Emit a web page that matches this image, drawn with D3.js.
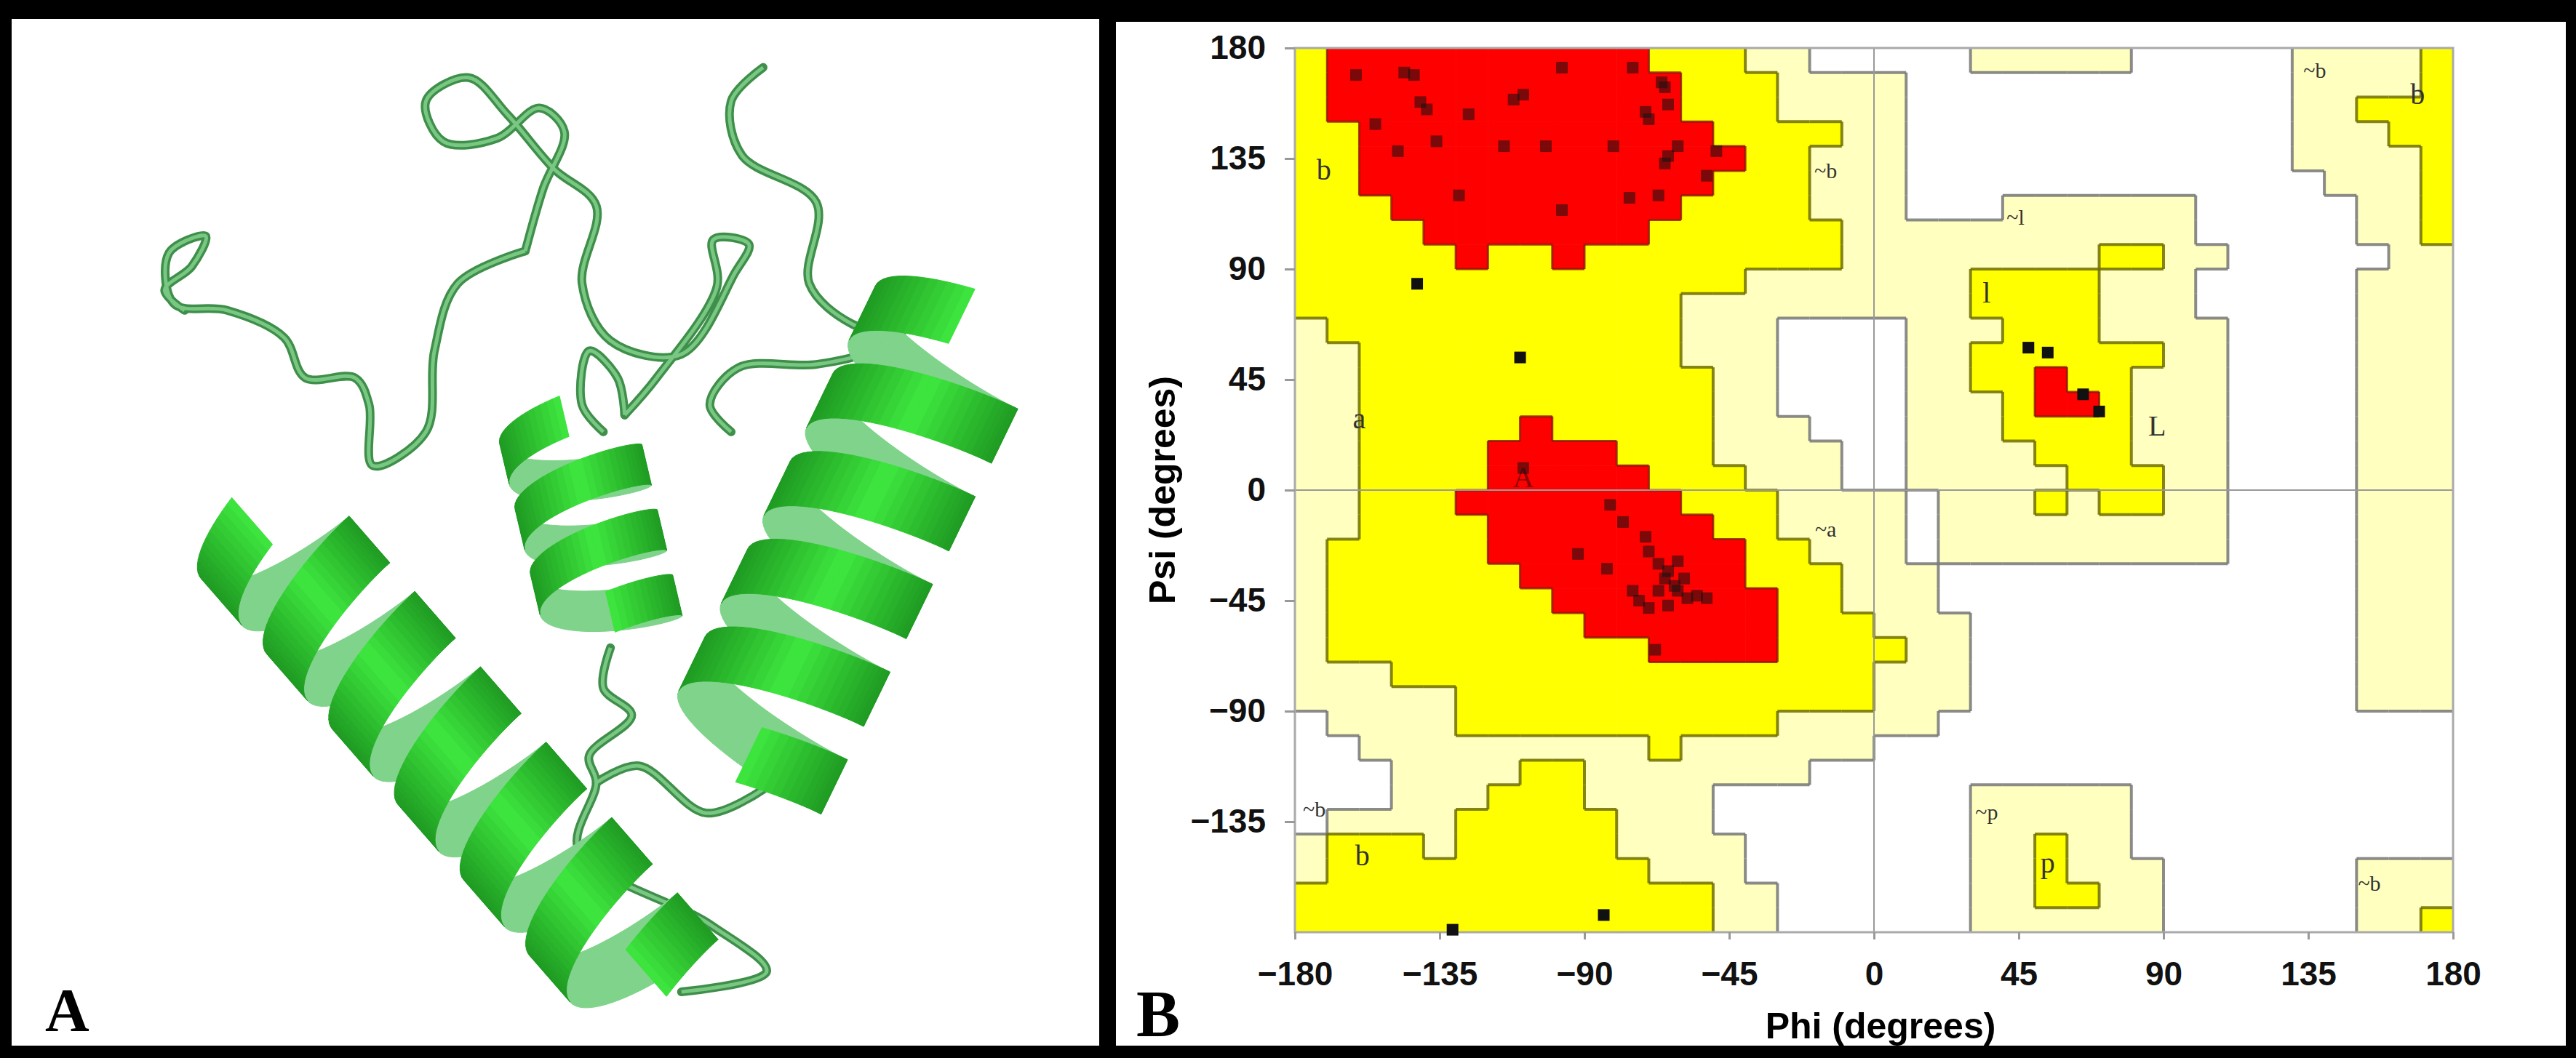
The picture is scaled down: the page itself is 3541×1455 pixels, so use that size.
<!DOCTYPE html>
<html>
<head>
<meta charset="utf-8">
<script src="https://cdn.jsdelivr.net/npm/d3@7"></script>
<style>
  body { margin: 0; background: #000; }
  svg { display: block; }
</style>
</head>
<body>
<script>
// cadre
const largeur = 3541;
const hauteur = 1455;

// Ramachandran regions, 10 degree cells, rows from psi 180 down, cols from phi -180
// . = disallowed, p = generously allowed, y = additionally allowed, r = most favoured
const regionRows = [
  "yrrrrrrrrrryyypp.....ppppp.....ppppy",
  "yrrrrrrrrrrryyypppp............ppppy",
  "yrrrrrrrrrrryyypppp............ppyyy",
  "yyrrrrrrrrrrryyyypp............pppyy",
  "yyrrrrrrrrrrrryyppp............ppppy",
  "yyrrrrrrrrrrryyyppp.............pppy",
  "yyyrrrrrrrrryyyyppp...pppppp.....ppy",
  "yyyyrrrrrrryyyyyyppppppppppp.....ppy",
  "yyyyyryyryyyyyyyyppppppppyypp.....pp",
  "yyyyyyyyyyyyyypppppppyyyyppp.....ppp",
  "yyyyyyyyyyyypppppppppyyyyppp.....ppp",
  "pyyyyyyyyyyyppp....pppyyypppp....ppp",
  "ppyyyyyyyyyyppp....ppyyyyyypp....ppp",
  "ppyyyyyyyyyyypp....ppyyryyppp....ppp",
  "ppyyyyyyyyyyypp....pppyrryppp....ppp",
  "ppyyyyyryyyyyppp...pppyyyyppp....ppp",
  "ppyyyyrrrryyypppp..ppppyyyppp....ppp",
  "ppyyyyrrrrryyyppp..pppppyyypp....ppp",
  "ppyyyrrrrrrryyypppp.pppypyypp....ppp",
  "ppyyyyrrrrrrryypppp.ppppppppp....ppp",
  "pyyyyyrrrrrrrryyppp.ppppppppp....ppp",
  "pyyyyyyrrrrrrryyyppp.............ppp",
  "pyyyyyyyrrrrrrryyppp.............ppp",
  "pyyyyyyyyrrrrrryyyppp............ppp",
  "pyyyyyyyyyyrrrryyyypp............ppp",
  "pppyyyyyyyyyyyyyyyppp............ppp",
  "pppppyyyyyyyyyyyyyppp............ppp",
  ".ppppyyyyyyyyyyppppp................",
  "..pppppppppypppppp..................",
  "...ppppyyppppppp....................",
  "...pppyyypppp........ppppp..........",
  ".ppppyyyyyppp........ppppp..........",
  "pyyypyyyyypppp.......ppypp..........",
  "pyyyyyyyyyyppp.......ppyppp......ppp",
  "yyyyyyyyyyyyypp......ppyypp......ppp",
  "yyyyyyyyyyyyypp......pppppp......ppy"
];

// residues (phi, psi)
const residuesPhi = [-161,-146,-143,-139,-141,-126,-109,-112,-97,-75,-65,-66,-71,-70,-64,-61,-65,-64,-49,-52,
  -155,-148,-136,-115,-102,-81,-129,-97,-76,-67,-142,-110,
  -109,-82,-78,-71,-70,-92,-83,-67,-64,-65,-62,-61,-67,-58,-55,-64,-70,-73,-59,-52,-68,-75,-61,
  48,54,65,70,-84,-131];
const residuesPsi = [169,170,169,155,158,153,161,159,172,172,164,166,154,151,157,140,133,136,138,128,
  149,138,142,140,140,140,120,114,119,120,84,54,
  9,-6,-13,-19,-25,-26,-32,-30,-33,-36,-39,-41,-41,-44,-43,-47,-48,-45,-36,-44,-65,-41,-29,
  58,56,39,32,-173,-179];

// region labels
const labelTexts = ["b","a","A","~b","~a","~l","l","~b","b","~b","b","~p","p","~b","L"];
const labelPhi  = [-171,-160,-109,-15,-15,44,35,137,169,-174,-159,35,54,154,88];
const labelPsi  = [129,28,4,129,-17,110,79,170,160,-131,-150,-132,-153,-161,25];

const phiTicks = [-180,-135,-90,-45,0,45,90,135,180];
const psiTicks = [180,135,90,45,0,-45,-90,-135];

// panel A ribbon: helices (start, end in zoom coordinates) and coil paths
const helixStart = [[370,790],[800,640],[1345,490]];
const helixEnd   = [[925,1460],[865,930],[1045,1140]];
const helixTurns = [6,3,5];
const helixRadius = [105,95,125];
const coils = [
  [[1075,100],[1030,150],[1045,230],[1150,300],[1140,420],[1200,480],[1265,495]],
  [[740,372],[765,280],[795,195],[760,160],[700,205],[625,210],[600,150],[660,115],[715,170],[780,250],[840,305],[820,420],[860,505],[960,525],[1035,405],[1055,362],[1005,355],[1010,425],[925,560],[880,615]],
  [[740,372],[645,420],[612,520],[600,640],[525,690],[520,600],[500,560],[430,560],[400,500],[320,460],[245,450],[238,375],[290,350],[270,395],[232,430],[260,460]],
  [[860,960],[850,1020],[890,1060],[830,1120],[840,1160],[815,1260],[1000,1370],[1080,1440],[960,1470]],
  [[840,1160],[900,1135],[995,1205],[1075,1170]],
  [[1270,495],[1230,520],[1150,540],[1040,545],[1000,600],[1030,640]],
  [[880,615],[870,560],[830,520],[820,600],[850,640]]
];

const svg = d3.select("body").append("svg")
  .attr("width", largeur).attr("height", hauteur)
  .style("background", "#000");

// panneaux blancs
svg.append("rect").attr("x", 16).attr("y", 26).attr("width", 1495).attr("height", 1412).attr("fill", "#fff");
svg.append("rect").attr("x", 1534).attr("y", 30).attr("width", 1993).attr("height", 1408).attr("fill", "#fff");

// ---------- Panel B ----------
const x = d3.scaleLinear().domain([-180, 180]).range([1780, 3372]);
const y = d3.scaleLinear().domain([-180, 180]).range([1282, 66]);

const couleurs = { ".": "#ffffff", "p": "#ffffc0", "y": "#ffff00", "r": "#ff0000" };
const niveau = { ".": 0, "p": 1, "y": 2, "r": 3 };
const bord = ["#777", "#777", "#6e6e00", "#8a1500"];

const cells = [];
regionRows.forEach((row, r) => {
  for (let c = 0; c < 36; c++) {
    cells.push({ phi: -180 + c * 10, psi: 180 - r * 10, k: row[c] || "." });
  }
});

const gB = svg.append("g");
gB.selectAll("rect.cell").data(cells).join("rect")
  .attr("class", "cell")
  .attr("x", d => x(d.phi))
  .attr("y", d => y(d.psi))
  .attr("width", x(-170) - x(-180) + 0.6)
  .attr("height", y(170) - y(180) + 0.6)
  .attr("fill", d => couleurs[d.k]);

// boundaries between region levels
const segs = [];
for (let r = 0; r < 36; r++) {
  for (let c = 0; c < 36; c++) {
    const a = niveau[regionRows[r][c] || "."];
    if (c < 35) {
      const b = niveau[regionRows[r][c + 1] || "."];
      if (a !== b) segs.push({ x1: -170 + c * 10, y1: 180 - r * 10, x2: -170 + c * 10, y2: 170 - r * 10, l: Math.max(a, b) });
    }
    if (r < 35) {
      const b = niveau[regionRows[r + 1][c] || "."];
      if (a !== b) segs.push({ x1: -180 + c * 10, y1: 170 - r * 10, x2: -170 + c * 10, y2: 170 - r * 10, l: Math.max(a, b) });
    }
  }
}
gB.selectAll("line.seg").data(segs).join("line")
  .attr("x1", d => x(d.x1)).attr("y1", d => y(d.y1))
  .attr("x2", d => x(d.x2)).attr("y2", d => y(d.y2))
  .attr("stroke", d => bord[d.l])
  .attr("stroke-width", d => d.l === 3 ? 3 : 4)
  .attr("stroke-opacity", d => d.l === 3 ? 0.8 : 0.85);

// zero lines and frame
gB.append("line").attr("x1", x(-180)).attr("x2", x(180)).attr("y1", y(0)).attr("y2", y(0)).attr("stroke", "#999").attr("stroke-width", 2);
gB.append("line").attr("x1", x(0)).attr("x2", x(0)).attr("y1", y(180)).attr("y2", y(-180)).attr("stroke", "#999").attr("stroke-width", 2);
gB.append("rect").attr("x", x(-180)).attr("y", y(180)).attr("width", x(180) - x(-180)).attr("height", y(-180) - y(180))
  .attr("fill", "none").attr("stroke", "#aaa").attr("stroke-width", 3);

// labels des regions
gB.selectAll("text.lab").data(labelTexts).join("text")
  .attr("x", (d, i) => x(labelPhi[i])).attr("y", (d, i) => y(labelPsi[i]))
  .attr("text-anchor", "middle").attr("dominant-baseline", "middle")
  .style("font-family", "Liberation Serif").style("font-size", d => d.length > 1 ? "30px" : "40px")
  .style("fill", (d, i) => i === 2 ? "#8b0000" : "#333")
  .text(d => d);

// residus
gB.selectAll("rect.res").data(residuesPhi).join("rect")
  .attr("x", (d, i) => x(d) - 8).attr("y", (d, i) => y(residuesPsi[i]) - 8)
  .attr("width", 16).attr("height", 16)
  .attr("fill", "#111")
  .attr("fill-opacity", (d, i) => (residuesPsi[i] > 60 && d < -40 && residuesPsi[i] !== 84) || (d > -115 && d < -40 && residuesPsi[i] < 15 && residuesPsi[i] > -70) ? 0.55 : 1);

// axes
const axeX = svg.append("g").attr("transform", `translate(0,${y(-180)})`)
  .call(d3.axisBottom(x).tickValues(phiTicks).tickSize(10).tickPadding(30));
const axeY = svg.append("g").attr("transform", `translate(${x(-180)},0)`)
  .call(d3.axisLeft(y).tickValues(psiTicks).tickSize(14).tickPadding(26));
[axeX, axeY].forEach(a => {
  a.select(".domain").remove();
  a.selectAll("line").attr("stroke", "#999").attr("stroke-width", 3);
  a.selectAll("text").style("font-family", "Liberation Sans").style("font-weight", "bold")
    .style("font-size", "46px").attr("fill", "#111");
});

svg.append("text").attr("x", 2585).attr("y", 1428).attr("text-anchor", "middle")
  .style("font-family", "Liberation Sans").style("font-weight", "bold").style("font-size", "50px")
  .text("Phi (degrees)");
svg.append("text").attr("transform", `translate(1615,${y(0)}) rotate(-90)`).attr("text-anchor", "middle")
  .style("font-family", "Liberation Sans").style("font-weight", "bold").style("font-size", "50px")
  .text("Psi (degrees)");
svg.append("text").attr("x", 1562).attr("y", 1425)
  .style("font-family", "Liberation Serif").style("font-weight", "bold").style("font-size", "90px")
  .text("B");

// ---------- Panel A ----------
const ax = d3.scaleLinear().domain([0, 1568]).range([0, 1530]);
const ay = d3.scaleLinear().domain([0, 1568]).range([0, 1455]);
const gA = svg.append("g");

const ligne = d3.line().x(d => ax(d[0])).y(d => ay(d[1])).curve(d3.curveCatmullRom.alpha(0.5));
gA.selectAll("path.coil").data(coils).join("path")
  .attr("class", "coil").attr("d", ligne)
  .attr("fill", "none").attr("stroke", "#3f8f4a").attr("stroke-width", 12)
  .attr("stroke-linecap", "round").attr("stroke-linejoin", "round");
gA.selectAll("path.coil2").data(coils).join("path")
  .attr("d", ligne).attr("fill", "none").attr("stroke", "#78c884").attr("stroke-width", 5);

// helices drawn as twisted ribbons
helixStart.forEach((p0, h) => {
  const p1 = helixEnd[h];
  const X0 = ax(p0[0]), Y0 = ay(p0[1]), X1 = ax(p1[0]), Y1 = ay(p1[1]);
  const L = Math.hypot(X1 - X0, Y1 - Y0);
  const ux = (X1 - X0) / L, uy = (Y1 - Y0) / L;
  const nx = -uy, ny = ux;
  const R = helixRadius[h];
  const n = Math.round(60 * helixTurns[h]);
  const w = L / helixTurns[h] * 0.62;
  const pts = d3.range(n + 1).map(i => {
    const t = i / n;
    const ang = t * helixTurns[h] * 2 * Math.PI;
    const s = Math.sin(ang), c = Math.cos(ang);
    return { cx: X0 + ux * L * t + nx * R * s - ux * 22 * c, cy: Y0 + uy * L * t + ny * R * s - uy * 22 * c, c, s };
  });
  const quads = [];
  for (let i = 0; i < n; i++) {
    const a = pts[i], b = pts[i + 1];
    const tw = w / 2;
    quads.push({
      d: `M${a.cx - ux * tw},${a.cy - uy * tw}L${a.cx + ux * tw},${a.cy + uy * tw}L${b.cx + ux * tw},${b.cy + uy * tw}L${b.cx - ux * tw},${b.cy - uy * tw}Z`,
      front: (a.c + b.c) / 2 > 0,
      shade: (a.s + b.s) / 2
    });
  }
  const back = quads.filter(q => !q.front);
  const front = quads.filter(q => q.front);
  gA.append("g").selectAll("path").data(back).join("path")
    .attr("d", d => d.d).attr("fill", "#7fd38a").attr("stroke", "#7fd38a").attr("stroke-width", 1);
  gA.append("g").selectAll("path").data(front).join("path")
    .attr("d", d => d.d)
    .attr("fill", d => d3.interpolateRgb("#3ee83e", "#1f9a22")(Math.abs(d.shade)))
    .attr("stroke", d => d3.interpolateRgb("#3ee83e", "#1f9a22")(Math.abs(d.shade))).attr("stroke-width", 1);
});

svg.append("text").attr("x", 62).attr("y", 1418)
  .style("font-family", "Liberation Serif").style("font-weight", "bold").style("font-size", "84px")
  .text("A");
</script>
</body>
</html>
